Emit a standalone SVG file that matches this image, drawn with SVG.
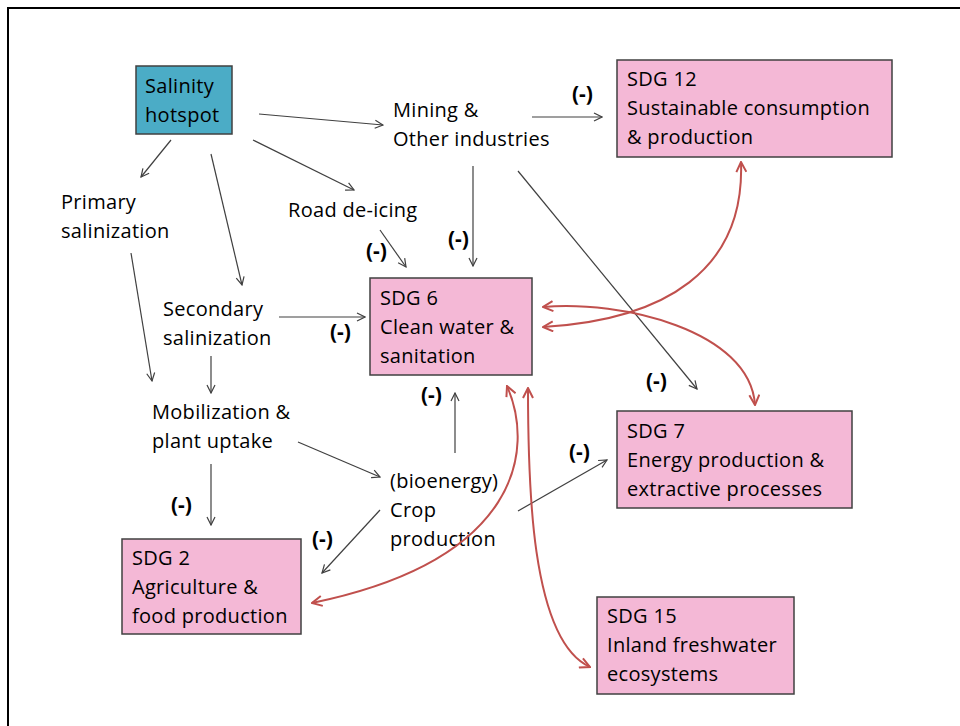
<svg xmlns="http://www.w3.org/2000/svg" width="960" height="726" viewBox="0 0 960 726">
<style>
text{font-family:"Open Sans",Lato,"Liberation Sans",sans-serif;font-size:20px;letter-spacing:0.3px;fill:#000}
.m{font-weight:bold;font-size:21px;letter-spacing:0}
.box{fill:#F4B8D6;stroke:#404040;stroke-width:1.5}
.hot{fill:#4BACC6;stroke:#404040;stroke-width:1.5}
.bl{fill:none;stroke:#404040;stroke-width:1.2;marker-end:url(#ah)}
.rd{fill:none;stroke:#C0504D;stroke-width:2;marker-start:url(#rh);marker-end:url(#rh)}
</style>
<defs>
<marker id="ah" viewBox="0 0 10 10" refX="9" refY="5" markerWidth="10" markerHeight="10" markerUnits="userSpaceOnUse" orient="auto">
<path d="M1,1 L9,5 L1,9" fill="none" stroke="#404040" stroke-width="1.2"/>
</marker>
<marker id="rh" viewBox="0 0 12 12" refX="11" refY="6" markerWidth="12" markerHeight="12" markerUnits="userSpaceOnUse" orient="auto-start-reverse">
<path d="M1,1 L11,6 L1,11" fill="none" stroke="#C0504D" stroke-width="2"/>
</marker>
</defs>
<rect width="960" height="726" fill="#fff"/>
<path d="M8,728 L8,8 L962,8" fill="none" stroke="#000" stroke-width="2"/>

<g id="hotspot"><rect class="hot" x="136" y="66" width="96" height="68"/><text x="145" y="93">Salinity</text><text x="145" y="122">hotspot</text></g>
<g id="mining"><text x="393" y="117">Mining &amp;</text><text x="393" y="146">Other industries</text></g>
<g id="sdg12"><rect class="box" x="617" y="60" width="275" height="97"/><text x="627" y="86">SDG 12</text><text x="627" y="115">Sustainable consumption</text><text x="627" y="144">&amp; production</text></g>
<g id="primary"><text x="61" y="209">Primary</text><text x="61" y="238">salinization</text></g>
<g id="road"><text x="288" y="217">Road de-icing</text></g>
<g id="secondary"><text x="163" y="316">Secondary</text><text x="163" y="345">salinization</text></g>
<g id="sdg6"><rect class="box" x="370" y="278" width="162" height="97"/><text x="380" y="305">SDG 6</text><text x="380" y="334">Clean water &amp;</text><text x="380" y="363">sanitation</text></g>
<g id="mobil"><text x="152" y="419">Mobilization &amp;</text><text x="152" y="448">plant uptake</text></g>
<g id="crop"><text x="390" y="488">(bioenergy)</text><text x="390" y="517">Crop</text><text x="390" y="546">production</text></g>
<g id="sdg7"><rect class="box" x="617" y="411" width="235" height="97"/><text x="627" y="438">SDG 7</text><text x="627" y="467">Energy production &amp;</text><text x="627" y="496">extractive processes</text></g>
<g id="sdg2"><rect class="box" x="122" y="539" width="179" height="95"/><text x="132" y="565">SDG 2</text><text x="132" y="594">Agriculture &amp;</text><text x="132" y="623">food production</text></g>
<g id="sdg15"><rect class="box" x="597" y="597" width="197" height="97"/><text x="607" y="623">SDG 15</text><text x="607" y="652">Inland freshwater</text><text x="607" y="681">ecosystems</text></g>

<g id="connectors">
<path class="bl" d="M259,114 L383,125"/>
<path class="bl" d="M171,140 L141,177"/>
<path class="bl" d="M211,154 L242,285"/>
<path class="bl" d="M253,140 L354,190"/>
<path class="bl" d="M532,117 L602,117"/>
<path class="bl" d="M473,166 L473,266"/>
<path class="bl" d="M518,171 L697,389"/>
<path class="bl" d="M380,230 L406,267"/>
<path class="bl" d="M279,317 L365,317"/>
<path class="bl" d="M131,253 L152,381"/>
<path class="bl" d="M211,356 L211,393"/>
<path class="bl" d="M298,442 L380,477"/>
<path class="bl" d="M211,464 L211,525"/>
<path class="bl" d="M455,453 L455,393"/>
<path class="bl" d="M380,510 L322,573"/>
<path class="bl" d="M518,511 L607,460"/>
<path class="rd" d="M543,327 C665,320 745,270 741,162"/>
<path class="rd" d="M543,307 C620,300 750,330 755,405"/>
<path class="rd" d="M507,386 C535,450 520,560 312,603"/>
<path class="rd" d="M528,388 C528,480 530,640 590,667"/>
</g>
<g id="labels">
<text class="m" x="572" y="101">(-)</text>
<text class="m" x="448" y="246">(-)</text>
<text class="m" x="646" y="388">(-)</text>
<text class="m" x="366" y="258">(-)</text>
<text class="m" x="330" y="339">(-)</text>
<text class="m" x="171" y="512">(-)</text>
<text class="m" x="421" y="402">(-)</text>
<text class="m" x="312" y="546">(-)</text>
<text class="m" x="569" y="459">(-)</text>
</g>
</svg>
